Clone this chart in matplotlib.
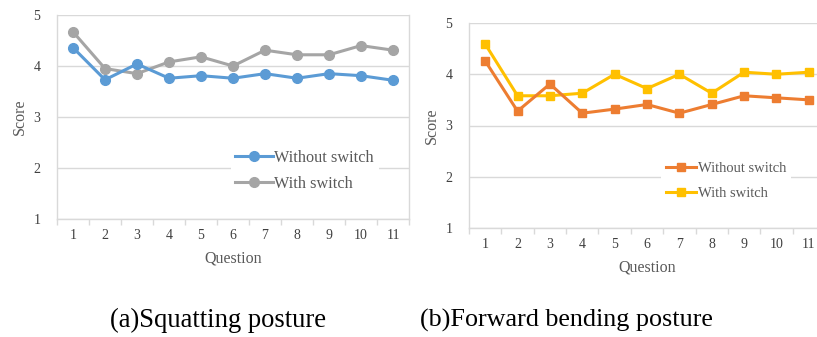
import numpy as np
import matplotlib
matplotlib.use("Agg")
import matplotlib.pyplot as plt

questions = list(range(1, 12))
squat_without = [4.36, 3.73, 4.04, 3.76, 3.81, 3.76, 3.85, 3.76, 3.85, 3.81, 3.72]
squat_with = [4.67, 3.95, 3.85, 4.08, 4.18, 4.00, 4.31, 4.22, 4.22, 4.40, 4.31]
bend_without = [4.26, 3.28, 3.81, 3.24, 3.32, 3.41, 3.24, 3.41, 3.58, 3.54, 3.50]
bend_with = [4.59, 3.58, 3.58, 3.63, 4.00, 3.72, 4.00, 3.63, 4.04, 4.00, 4.04]
series_labels = ["Without switch", "With switch"]
captions = ["(a)Squatting posture", "(b)Forward bending posture"]

W, H = 817, 337
fig = plt.figure(figsize=(W / 100, H / 100), dpi=100)

GRID = "#d9d9d9"
TXT = "#595959"
SERIF = "Liberation Serif"


def px_axes(x0, x1, y0, y1):
    return fig.add_axes([x0 / W, 1 - y1 / H, (x1 - x0) / W, (y1 - y0) / H])


def style(ax, right_spine):
    ax.set_xlim(0.5, 11.5)
    ax.set_ylim(1, 5)
    ax.set_yticks([1, 2, 3, 4, 5])
    ax.set_xticks(questions)
    ax.set_xticks(np.arange(0.5, 12, 1), minor=True)
    ax.tick_params(axis="x", which="major", length=0, pad=7)
    ax.tick_params(axis="x", which="minor", length=4, color=GRID, width=1)
    ax.tick_params(axis="y", length=0, pad=12)
    for lab in ax.get_xticklabels() + ax.get_yticklabels():
        lab.set_fontfamily(SERIF)
        lab.set_fontsize(10)
        lab.set_color("#404040")
    ax.grid(axis="y", color=GRID, lw=1)
    ax.set_axisbelow(True)
    ax.spines["top"].set_visible(False)
    ax.spines["right"].set_visible(right_spine)
    for s in ("left", "bottom", "right"):
        ax.spines[s].set_color(GRID)
        ax.spines[s].set_linewidth(1)
    ax.set_xlabel("Question", fontfamily=SERIF, fontsize=11.5, color=TXT,
                  labelpad=6.5)
    ax.set_ylabel("Score", fontfamily=SERIF, fontsize=11.5, color=TXT,
                  labelpad=4)


# (a) squatting
ax1 = px_axes(57, 409, 15, 219)
style(ax1, True)
ax1.plot(questions, squat_without, color="#5B9BD5", lw=2.2, marker="o",
         ms=7, label=series_labels[0], zorder=4)
ax1.plot(questions, squat_with, color="#A5A5A5", lw=2.2, marker="o",
         ms=7, label=series_labels[1], zorder=3)
leg1 = ax1.legend(loc="center left", bbox_to_anchor=(0.47, 0.235),
                  frameon=True, framealpha=1, edgecolor="none", fancybox=False,
                  handlelength=2.3, handletextpad=0.1, labelspacing=0.6,
                  prop={"family": SERIF, "size": 11.7}, borderpad=0.3)
for t in leg1.get_texts():
    t.set_color(TXT)

# (b) forward bending
ax2 = px_axes(469, 825, 23, 228)
style(ax2, False)
ax2.plot(questions, bend_without, color="#ED7D31", lw=2.2, marker="s",
         ms=6, label=series_labels[0], zorder=4)
ax2.plot(questions, bend_with, color="#FFC000", lw=2.2, marker="s",
         ms=6, label=series_labels[1], zorder=3)
leg2 = ax2.legend(loc="center left", bbox_to_anchor=(0.52, 0.23),
                  frameon=True, framealpha=1, edgecolor="none", fancybox=False,
                  handlelength=2.1, handletextpad=0.1, labelspacing=0.8,
                  prop={"family": SERIF, "size": 10.5}, borderpad=0.3)
for t in leg2.get_texts():
    t.set_color(TXT)

fig.text(218 / W, 1 - 320 / H, captions[0], ha="center", va="center",
         fontfamily=SERIF, fontsize=19.2, color="black")
fig.text(566 / W, 1 - 320 / H, captions[1], ha="center", va="center",
         fontfamily=SERIF, fontsize=18.8, color="black")

fig.savefig("out.png", dpi=100)
